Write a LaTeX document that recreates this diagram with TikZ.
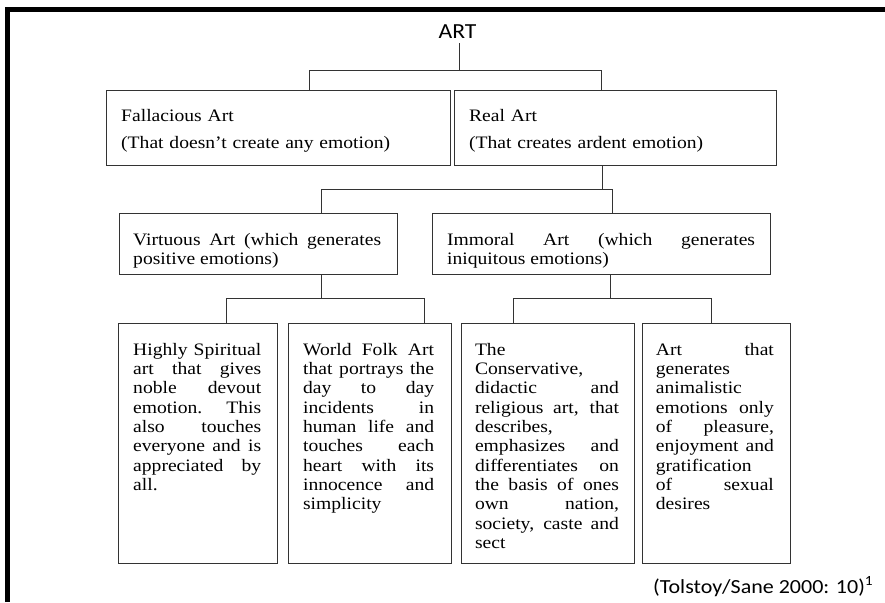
\documentclass[tikz,border=0pt]{standalone}
\usepackage{fontspec}
\setmainfont{Liberation Serif}
\newfontfamily\boxfont{Liberation Serif}[FakeStretch=1.12]
\newfontfamily\headfont{Carlito}[FakeStretch=1.1]
\usetikzlibrary{positioning}
\tolerance=10000
\hyphenpenalty=10000
\hbadness=10000
\tikzset{
  % Outlined box: fixed size, text set apart
  cell/.style={
    rectangle, draw=black!80, line width=0.9pt,
    inner sep=0pt
  },
  % Justified text inside a box
  celltxt/.style={
    inner sep=0pt, align=justify,
    font=\boxfont\fontsize{17.5}{19.3}\selectfont
  },
  % Tree connector
  link/.style={draw=black!80, line width=0.9pt},
  % Heading and source line
  head/.style={font=\headfont\fontsize{20}{24}\selectfont, inner sep=0pt}
}
\begin{document}
\begin{tikzpicture}[x=1pt, y=1pt]
  \useasboundingbox (0,0) rectangle (885,-602);
  % page frame
  \draw[line width=5pt] (7.5,-602) -- (7.5,-9.3) -- (885,-9.3);

  \node[head, font=\headfont\fontsize{21.5}{24}\selectfont, anchor=base] (art) at (457.5,-38) {ART};

  % first level
  \node[cell, minimum width=344pt, minimum height=75pt, anchor=north west] (fall) at (106,-90) {};
  \node[cell, minimum width=322pt, minimum height=75pt, right=3pt of fall] (real) {};
  \node[celltxt, text width=314pt, align=left, below right=19pt and 15pt of fall.north west] (fallT)
    {Fallacious Art\\[7.7pt](That doesn’t create any emotion)};
  \node[celltxt, text width=292pt, align=left, below right=19pt and 15pt of real.north west] (realT)
    {Real Art\\[7.7pt](That creates ardent emotion)};

  % second level
  \node[cell, minimum width=278pt, minimum height=61pt, anchor=north west] (virt) at (119,-213) {};
  \node[cell, minimum width=338pt, minimum height=61pt, right=34pt of virt] (immo) {};
  \node[celltxt, text width=248pt, below right=20pt and 14pt of virt.north west] (virtT)
    {Virtuous Art (which generates\linebreak positive emotions)};
  \node[celltxt, text width=308pt, below right=20pt and 15pt of immo.north west] (immoT)
    {Immoral Art (which generates\linebreak iniquitous emotions)};

  % third level
  \node[cell, minimum width=159pt, minimum height=240pt, anchor=north west] (spirit) at (118,-323) {};
  \node[cell, minimum width=163pt, minimum height=240pt, right=10pt of spirit] (folk) {};
  \node[cell, minimum width=173pt, minimum height=240pt, right=9pt of folk] (cons) {};
  \node[cell, minimum width=148pt, minimum height=240pt, right=7pt of cons] (anim) {};
  \node[celltxt, text width=128pt, below right=20pt and 15pt of spirit.north west] (spiritT)
    {Highly Spiritual\linebreak art that gives\linebreak noble devout\linebreak emotion. This\linebreak
     also touches\linebreak everyone and is\linebreak appreciated by\linebreak all.};
  \node[celltxt, text width=131pt, below right=20pt and 15pt of folk.north west] (folkT)
    {World Folk Art\linebreak that portrays the\linebreak day to day\linebreak incidents in\linebreak
     human life and\linebreak touches each\linebreak heart with its\linebreak innocence and\linebreak simplicity};
  \node[celltxt, text width=144pt, below right=20pt and 14pt of cons.north west] (consT)
    {The\linebreak Conservative,\linebreak didactic and\linebreak religious art, that\linebreak describes,\linebreak
     emphasizes and\linebreak differentiates on\linebreak the basis of ones\linebreak own nation,\linebreak
     society, caste and\linebreak sect};
  \node[celltxt, text width=118pt, below right=20pt and 14pt of anim.north west] (animT)
    {Art that\linebreak generates\linebreak animalistic\linebreak emotions only\linebreak of pleasure,\linebreak
     enjoyment and\linebreak gratification\linebreak of sexual\linebreak desires};

  \node[head, anchor=base west] (src) at (653,-593) {(Tolstoy/Sane 2000: 10)\textsuperscript{1}};

  % connectors
  \draw[link] ([xshift=31pt]fall.north) -- ++(0,20) coordinate (bar1) -| ([xshift=-14pt]real.north);
  \draw[link] ([xshift=1.5pt, yshift=-5pt]art.south) -- ([xshift=1.5pt]art.south |- bar1);
  \draw[link] ([xshift=-13pt]real.south) -- ++(0,-24);
  \draw[link] ([xshift=63pt]virt.north) -- ++(0,24) -| ([xshift=11pt]immo.north);
  \draw[link] ([xshift=63pt]virt.south) -- ++(0,-24);
  \draw[link] ([xshift=28.5pt]spirit.north) -- ++(0,25) -| ([xshift=54.5pt]folk.north);
  \draw[link] ([xshift=9pt]immo.south) -- ++(0,-24);
  \draw[link] ([xshift=-34.5pt]cons.north) -- ++(0,25) -| ([xshift=-5pt]anim.north);
\end{tikzpicture}
\end{document}
